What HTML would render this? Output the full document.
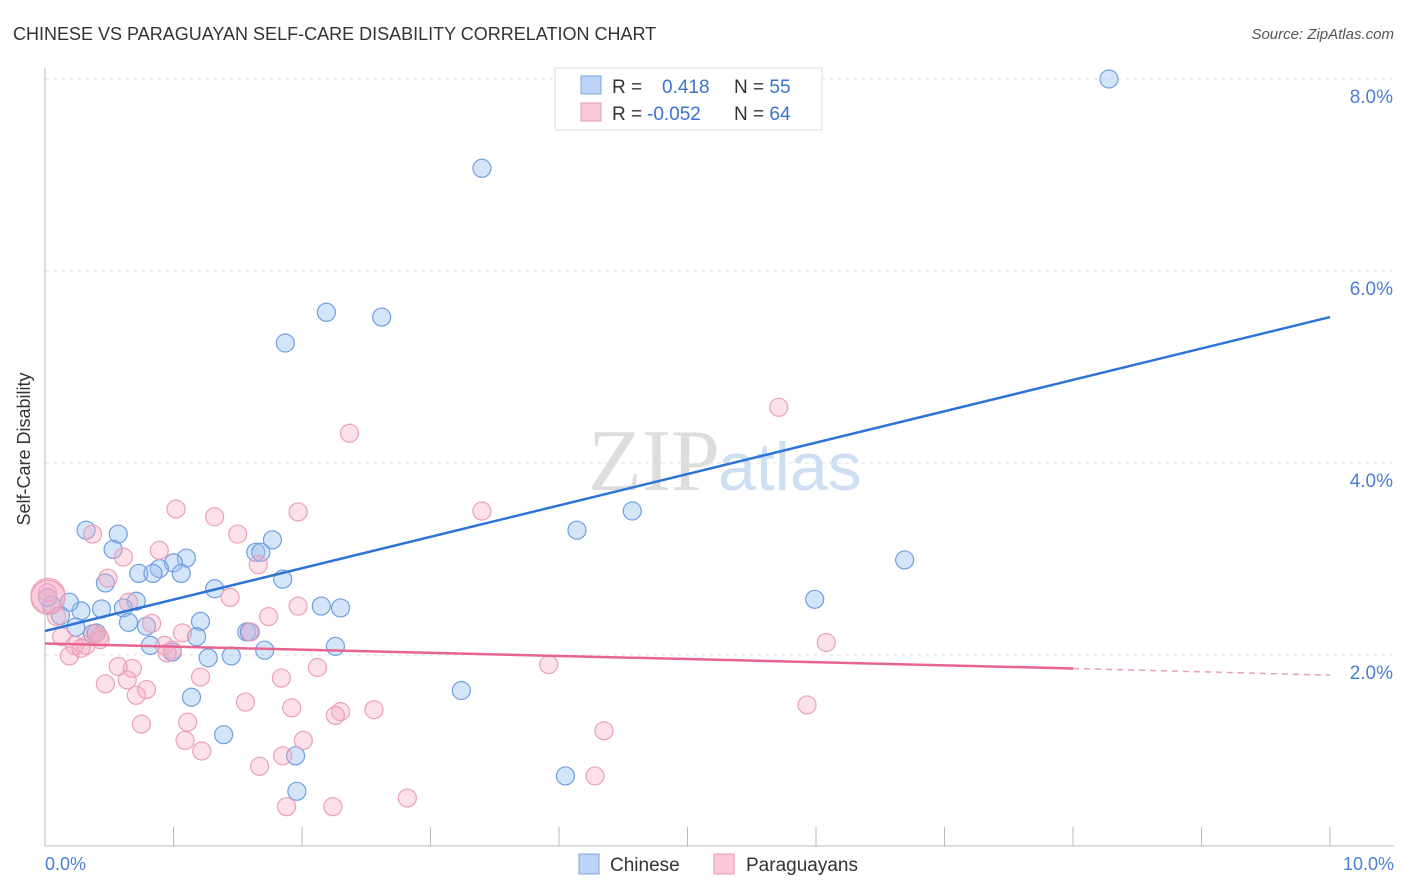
<!DOCTYPE html>
<html><head><meta charset="utf-8"><style>
body{margin:0;background:#fff;font-family:"Liberation Sans",sans-serif}
svg{display:block}
</style></head><body>
<svg width="1406" height="892" viewBox="0 0 1406 892">
<text x="13" y="40" font-size="18" fill="#333">CHINESE VS PARAGUAYAN SELF-CARE DISABILITY CORRELATION CHART</text>
<text x="1394" y="39" font-size="15" fill="#555" text-anchor="end" font-style="italic">Source: ZipAtlas.com</text>
<g id="grid"></g>
<line x1="45" y1="68" x2="45" y2="846" stroke="#bbb"/>
<line x1="45" y1="846" x2="1394" y2="846" stroke="#bbb"/>
<g id="ticks"></g>
<text x="720" y="490" font-size="88" fill="#ddd" text-anchor="end" font-family="Liberation Serif,serif">ZIP</text>
<text x="718" y="490" font-size="68" fill="#cfdff3">atlas</text>
<text x="36" y="455" font-size="18" fill="#333" transform="rotate(-90 30 455)" text-anchor="middle">Self-Care Disability</text>
<text x="45" y="870" font-size="18" fill="#4a7fd6">0.0%</text>
<text x="1394" y="870" font-size="18" fill="#4a7fd6" text-anchor="end">10.0%</text>
<g id="pts"></g>
<g id="lines"></g>
<g>
<rect x="555" y="68" width="267" height="62" fill="#fff" stroke="#ddd"/>
<rect x="581" y="76" width="20" height="18" fill="#bcd4f5" stroke="#7aa5e6"/>
<rect x="581" y="103" width="20" height="18" fill="#f9c9d7" stroke="#ec9ab3"/>
<text x="612" y="93" font-size="19" fill="#333">R = <tspan fill="#3a73d4" x="662">0.418</tspan><tspan x="734" fill="#333">N = </tspan><tspan fill="#3a73d4">55</tspan></text>
<text x="612" y="120" font-size="19" fill="#333">R = <tspan fill="#3a73d4" x="647">-0.052</tspan><tspan x="734" fill="#333">N = </tspan><tspan fill="#3a73d4">64</tspan></text>
</g>
<g>
<rect x="579" y="854" width="20" height="20" fill="#bcd4f5" stroke="#7aa5e6"/>
<text x="610" y="871" font-size="19" fill="#333">Chinese</text>
<rect x="714" y="854" width="20" height="20" fill="#f9c9d7" stroke="#ec9ab3"/>
<text x="746" y="871" font-size="19" fill="#333">Paraguayans</text>
</g>
</svg>
<script>
const yTicks=[2,4,6,8];
const xTicks=[0,1,2,3,4,5,6,7,8,9,10];
const chineseX=[8.28,3.40,2.19,2.62,1.87,4.57,4.14,6.69,5.99,0.32,0.57,0.53,1.77,1.64,1.68,1.10,1.00,0.89,0.73,0.84,1.06,0.47,1.32,1.85,0.71,0.61,0.44,0.28,0.19,0.05,0.02,0.12,2.15,2.30,1.21,0.65,0.24,0.79,0.37,1.18,1.57,1.59,2.26,0.82,0.99,1.71,1.27,1.45,1.14,3.24,1.39,1.95,4.05,1.96,0.40];
const chineseY=[8.00,7.07,5.57,5.52,5.25,3.50,3.30,2.99,2.58,3.30,3.26,3.10,3.20,3.07,3.07,3.01,2.96,2.90,2.85,2.85,2.85,2.75,2.69,2.79,2.56,2.49,2.48,2.46,2.55,2.52,2.60,2.41,2.51,2.49,2.35,2.34,2.29,2.30,2.22,2.19,2.24,2.24,2.09,2.10,2.03,2.05,1.97,1.99,1.56,1.63,1.17,0.95,0.74,0.58,2.23];
const paraX=[5.71,2.37,1.02,1.32,1.97,3.40,0.37,1.50,0.89,0.61,1.66,0.49,1.44,0.65,1.97,1.74,0.83,1.07,0.42,0.39,1.60,6.08,0.93,0.99,0.95,0.13,0.23,0.32,0.19,0.28,0.57,0.68,3.92,2.12,1.84,1.21,0.47,0.64,0.79,0.71,1.56,1.92,2.30,2.26,2.56,1.11,0.75,5.93,4.35,1.09,2.01,1.85,1.22,1.67,4.28,1.88,2.24,2.82,0.02,0.09,0.43,0.0,0.0];
const paraY=[4.58,4.31,3.52,3.44,3.49,3.50,3.26,3.26,3.09,3.02,2.94,2.80,2.60,2.55,2.51,2.40,2.33,2.23,2.19,2.22,2.24,2.13,2.10,2.05,2.02,2.19,2.10,2.10,1.99,2.07,1.88,1.86,1.90,1.87,1.76,1.77,1.70,1.74,1.64,1.58,1.51,1.45,1.41,1.37,1.43,1.30,1.28,1.48,1.21,1.11,1.11,0.95,1.00,0.84,0.74,0.42,0.42,0.51,2.65,2.40,2.16,2.62,2.60];
const blueLine=[0,2.25,10,5.52];
const pinkLine=[0,2.12,8,1.86,10,1.79];
const X=v=>45+v*128.5, Y=v=>847-v*96;
const NS="http://www.w3.org/2000/svg";
function mk(tag,attrs,parent){const e=document.createElementNS(NS,tag);for(const k in attrs)e.setAttribute(k,attrs[k]);document.getElementById(parent).appendChild(e);return e;}
yTicks.forEach(t=>{
 const l=mk('line',{x1:45,x2:1394,y1:Y(t),y2:Y(t),stroke:'#e2e2e2','stroke-dasharray':'4 4'},'grid');
 
 
 const tx=mk('text',{x:1393,y:Y(t)+24,'font-size':19,fill:'#4a7fd6','text-anchor':'end'},'grid');
 tx.textContent=t.toFixed(1)+'%';
 
 
});
xTicks.forEach(t=>{
 const l=mk('line',{x1:X(t),x2:X(t),y1:827,y2:846,stroke:'#bbb'},'ticks');
 
 
});
function pts(xs,ys,fill,stroke,name){xs.forEach((x,i)=>{
 const big=(x<0.02&&ys[i]>2.55);
 const c=mk('circle',{cx:X(x)+(big?3:0),cy:Y(ys[i]),r:big?17:9,fill:fill,stroke:stroke,'stroke-width':1.2},'pts');
 
 
});}
pts(chineseX,chineseY,'rgba(150,190,240,0.4)','#6f9fe0','chinese-point');
pts(paraX,paraY,'rgba(245,170,195,0.35)','#eba0b8','paraguayan-point');
const b=mk('line',{x1:X(blueLine[0]),y1:Y(blueLine[1]),x2:X(blueLine[2]),y2:Y(blueLine[3]),stroke:'#2e74d6','stroke-width':2.5},'lines');


const p=mk('line',{x1:X(pinkLine[0]),y1:Y(pinkLine[1]),x2:X(pinkLine[2]),y2:Y(pinkLine[3]),stroke:'#e8648f','stroke-width':2.5},'lines');


const pd=mk('line',{x1:X(pinkLine[2]),y1:Y(pinkLine[3]),x2:X(pinkLine[4]),y2:Y(pinkLine[5]),stroke:'#e8a0b6','stroke-width':1.5,'stroke-dasharray':'6 5'},'lines');


</script>
</body></html>
